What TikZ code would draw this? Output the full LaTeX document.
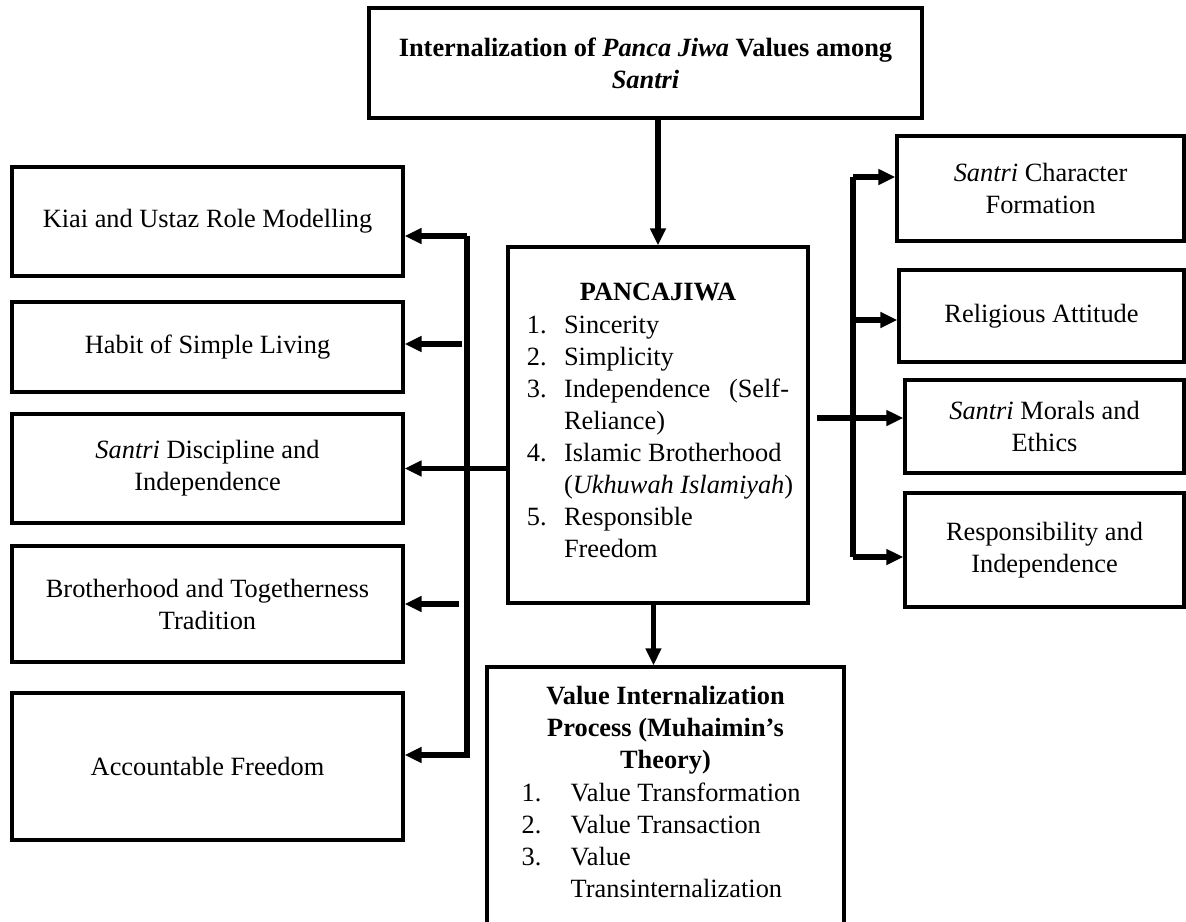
\documentclass[tikz,border=0pt]{standalone}
\usepackage{fontspec}
\setmainfont{Liberation Serif}
\usepackage{array}
\usepackage{tikz}
\usetikzlibrary{arrows.meta, positioning}
\newcolumntype{L}[1]{>{\raggedright\arraybackslash}p{#1}}
\tikzset{frame/.style 2 args={draw, line width=1.4pt, inner sep=0pt, align=center,
    minimum width=#1, minimum height=#2, font=\fontsize{11.6}{14.1}\selectfont},
  link/.style={line width=2.6pt, ->}}

\begin{document}
\begin{tikzpicture}[x=0.44pt, y=-0.44pt, >={Triangle[length=7.5pt,width=6.6pt]}]
\useasboundingbox (0,0) rectangle (1186,921);
% main column
\node[frame={243.3pt}{48.4pt}] (top) at (645.5,63) {\textbf{Internalization of \textit{Panca Jiwa} Values among}\\\textbf{\textit{Santri}}};
\node[frame={132pt}{156.6pt}] (pj) at (658,425) {\textbf{PANCAJIWA}\\[3.5pt]
  \begin{tabular}{@{}L{16.3pt}@{}L{99pt}@{}}
  1. & Sincerity\\ 2. & Simplicity\\ 3. & Independence\hfill(Self-\newline Reliance)\\
  4. & Islamic Brotherhood\newline\mbox{(\textit{Ukhuwah Islamiyah})}\\ 5. & Responsible\newline Freedom
  \end{tabular}};
\node[frame={157.1pt}{114pt}] (proc) at (665.5,796.5) {\textbf{Value Internalization}\\\textbf{Process (Muhaimin’s}\\\textbf{Theory)}\\[1pt]
  \begin{tabular}{@{}L{21.6pt}@{}L{105pt}@{}}
  1. & Value Transformation\\ 2. & Value Transaction\\ 3. & Value\newline Transinternalization
  \end{tabular}};
% left column
\node[frame={172pt}{48pt}] (kiai) at (207.5,221.5) {Kiai and Ustaz Role Modelling};
\node[frame={172pt}{39.6pt}] (habit) at (207.5,347) {Habit of Simple Living};
\node[frame={172pt}{48pt}] (disc) at (207.5,468.5) {\textit{Santri} Discipline and\\Independence};
\node[frame={172pt}{51pt}] (broth) at (207.5,604) {Brotherhood and Togetherness\\Tradition};
\node[frame={172pt}{64.7pt}] (free) at (207.5,766.5) {Accountable Freedom};
% right column
\node[frame={126.3pt}{46.2pt}] (char) at (1040.5,188.5) {\textit{Santri} Character\\Formation};
\node[frame={125.4pt}{40.5pt}] (relig) at (1041.5,316) {Religious Attitude};
\node[frame={122.8pt}{40.9pt}] (moral) at (1044.5,426.5) {\textit{Santri} Morals and\\Ethics};
\node[frame={122.8pt}{50.2pt}] (resp) at (1044.5,550) {Responsibility and\\Independence};

\coordinate (lt) at (467,236); \coordinate (lb) at (467,755);
\coordinate (rt) at (853,177); \coordinate (rb) at (853,557);
\coordinate (a2) at (462,344); \coordinate (a4) at (459,604);
\coordinate (r2) at (853,320); \coordinate (r3) at (817,418);

\draw[link] (pj.north |- top.south) -- (pj.north);
\draw[link] ([xshift=-2pt]pj.south) -- ([xshift=-2pt]pj.south |- proc.north);
% left branches
\draw[link] (lt) -- (kiai.east |- lt);
\draw[link, line join=miter] (lt) -- (lb) -- (free.east |- lb);
\draw[link] (a2) -- (habit.east |- a2);
\draw[link] (pj.west |- disc.east) -- (disc.east);
\draw[link] (a4) -- (broth.east |- a4);
% right branches
\draw[line width=2.8pt] (rt) -- (rb);
\draw[link] (rt) -- (char.west |- rt);
\draw[link] (r2) -- (relig.west |- r2);
\draw[link] (r3) -- (moral.west |- r3);
\draw[link] (rb) -- (resp.west |- rb);
\end{tikzpicture}
\end{document}
